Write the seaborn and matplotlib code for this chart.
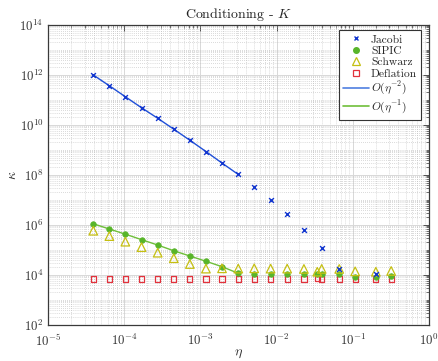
import numpy as np
import pandas as pd
import matplotlib
matplotlib.use("Agg")
import matplotlib.pyplot as plt
from matplotlib.lines import Line2D
from matplotlib.ticker import FixedLocator, LogFormatterSciNotation, NullFormatter
import seaborn as sns

# Mesh parameter eta for every run
eta = [3.90e-5, 6.35e-5, 1.03e-4, 1.68e-4, 2.74e-4, 4.46e-4, 7.26e-4, 1.18e-3,
       1.92e-3, 3.14e-3, 5.09e-3, 8.36e-3, 1.38e-2, 2.29e-2, 3.43e-2, 3.92e-2,
       6.67e-2, 1.08e-1, 2.02e-1, 3.21e-1]

# Jacobi is only available on a subset of the runs
jacobi_idx = [0, 1, 2, 3, 4, 5, 6, 7, 8, 9, 10, 11, 12, 13, 15, 16, 18]
jacobi = [1.0e12, 3.7e11, 1.35e11, 4.9e10, 1.86e10, 6.8e9, 2.45e9, 8.7e8, 3.0e8,
          1.05e8, 3.3e7, 9.8e6, 2.75e6, 6.3e5, 1.23e5, 1.7e4, 1.05e4]

sipic = [1.12e6, 6.9e5, 4.3e5, 2.6e5, 1.58e5, 9.3e4, 5.75e4, 3.55e4, 2.15e4, 1.17e4,
         1.07e4, 1.07e4, 1.1e4, 1.12e4, 1.05e4, 1.1e4, 1.1e4, 8.5e3, 8.7e3, 9.3e3]

schwarz = [5.9e5, 3.6e5, 2.15e5, 1.3e5, 7.8e4, 4.7e4, 2.75e4, 1.8e4, 1.85e4, 1.8e4,
           1.85e4, 1.8e4, 1.8e4, 1.75e4, 1.35e4, 1.75e4, 1.75e4, 1.4e4, 1.35e4, 1.45e4]

deflation = [6.9e3, 6.9e3, 6.9e3, 6.9e3, 6.9e3, 6.9e3, 6.9e3, 6.9e3, 6.9e3, 6.9e3,
             6.9e3, 6.9e3, 6.9e3, 6.9e3, 7.1e3, 6.9e3, 6.9e3, 6.9e3, 6.9e3, 6.9e3]

# Reference slopes over the first ten runs
n_fit = 10

c_jac = "#1236cf"
c_jac_line = "#1f4fd8"
c_sip = "#58b52a"
c_sip_line = "#6fbf3a"
c_sch = "#c5bf12"
c_def = "#e2323c"

sns.set_style("white")
plt.rcParams["font.family"] = ["cmr10", "DejaVu Serif"]
plt.rcParams["mathtext.fontset"] = "cm"
plt.rcParams["axes.formatter.use_mathtext"] = True
plt.rcParams["axes.unicode_minus"] = False

fig = plt.figure(figsize=(4.38, 3.61), dpi=100)
ax = fig.add_axes([48.3 / 438, 1 - 325 / 361, (428.7 - 48.3) / 438, 300 / 361])

df_all = pd.DataFrame({"eta": eta, "sipic": sipic, "schwarz": schwarz,
                       "deflation": deflation})
df_jac = pd.DataFrame({"eta": [eta[i] for i in jacobi_idx], "kappa": jacobi})

# reference lines
sns.lineplot(x=df_jac["eta"][:n_fit], y=df_jac["kappa"][:n_fit], ax=ax,
             color=c_jac_line, lw=1.0, zorder=3, estimator=None, sort=False)
sns.lineplot(x=df_all["eta"][:n_fit], y=df_all["sipic"][:n_fit], ax=ax,
             color=c_sip_line, lw=1.0, zorder=3, estimator=None, sort=False)

sns.scatterplot(data=df_all, x="eta", y="deflation", ax=ax, marker="s", s=14,
                facecolor="none", edgecolor=c_def, linewidth=0.9, zorder=4)
sns.scatterplot(data=df_all, x="eta", y="sipic", ax=ax, marker="o", s=16,
                color=c_sip, edgecolor=c_sip, linewidth=0.5, zorder=5)
sns.scatterplot(data=df_all, x="eta", y="schwarz", ax=ax, marker="^", s=38,
                facecolor="none", edgecolor=c_sch, linewidth=0.9, zorder=6)
sns.scatterplot(data=df_jac, x="eta", y="kappa", ax=ax, marker="x", s=12,
                color=c_jac, linewidth=1.0, zorder=7)

ax.set_xscale("log")
ax.set_yscale("log")
ax.set_xlim(1e-5, 1)
ax.set_ylim(1e2, 1e14)

xmaj = [10.0 ** k for k in range(-5, 1)]
ymaj = [10.0 ** k for k in range(2, 15, 2)]
xmin = [m * 10.0 ** k for k in range(-5, 0) for m in range(2, 10)]
ymin = [m * 10.0 ** k for k in range(2, 14) for m in range(1, 10)
        if not (m == 1 and k % 2 == 0)]
ax.xaxis.set_major_locator(FixedLocator(xmaj))
ax.yaxis.set_major_locator(FixedLocator(ymaj))
ax.xaxis.set_minor_locator(FixedLocator(xmin))
ax.yaxis.set_minor_locator(FixedLocator(ymin))
ax.xaxis.set_major_formatter(LogFormatterSciNotation())
ax.yaxis.set_major_formatter(LogFormatterSciNotation())
ax.xaxis.set_minor_formatter(NullFormatter())
ax.yaxis.set_minor_formatter(NullFormatter())

ax.grid(True, which="major", color="#d8d8d8", lw=0.7, ls="-", zorder=0)
ax.grid(True, which="minor", color="#b8b8b8", lw=0.5, ls=(0, (1, 2)), zorder=0)
ax.set_axisbelow(True)

ax.tick_params(which="both", direction="in", top=True, right=True,
               color="#3a3a3a", labelsize=9.2, labelcolor="#333333")
ax.tick_params(which="major", length=4, width=0.6)
ax.tick_params(which="minor", length=2.2, width=0.5)
ax.tick_params(axis="x", which="major", pad=5.5)
ax.tick_params(axis="y", which="major", pad=3.5)
for sp in ax.spines.values():
    sp.set_color("#3a3a3a")
    sp.set_linewidth(0.9)

ax.set_title(r"Conditioning - $K$", fontsize=10, color="#222222", pad=5)
ax.set_xlabel(r"$\eta$", fontsize=10, color="#333333", labelpad=-1)
ax.set_ylabel(r"$\kappa$", fontsize=10, color="#333333", labelpad=0)

handles = [
    Line2D([], [], ls="none", marker="x", ms=3.5, mew=1.0, color=c_jac),
    Line2D([], [], ls="none", marker="o", ms=4, color=c_sip),
    Line2D([], [], ls="none", marker="^", ms=6, mfc="none", mec=c_sch, mew=0.9),
    Line2D([], [], ls="none", marker="s", ms=4, mfc="none", mec=c_def, mew=0.9),
    Line2D([], [], color="#4f7fe0", lw=1.2),
    Line2D([], [], color=c_sip_line, lw=1.2),
]
labels = ["Jacobi", "SIPIC", "Schwarz", "Deflation",
          r"$O(\eta^{-2})$", r"$O(\eta^{-1})$"]
leg = ax.legend(handles, labels, loc="upper right", fontsize=8.3,
                frameon=True, fancybox=False, framealpha=1,
                edgecolor="#333333", handlelength=2.3, handletextpad=0.15,
                borderpad=0.35, labelspacing=0.12, borderaxespad=0,
                bbox_to_anchor=(0.98, 0.982))
leg.get_frame().set_linewidth(0.8)

fig.savefig("out.png", dpi=100)
